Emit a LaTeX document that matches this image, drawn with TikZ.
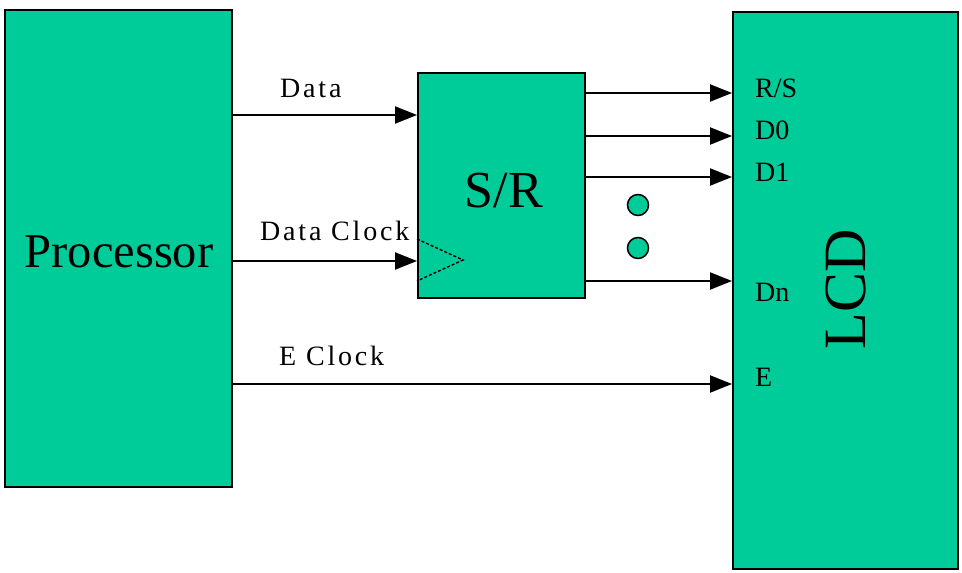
\documentclass[tikz,border=0pt]{standalone}
\usepackage{fontspec}
\setmainfont{Liberation Serif}
\newfontfamily\wirefont{Liberation Serif}[LetterSpace=10]
\usetikzlibrary{arrows.meta}
\definecolor{chipgreen}{RGB}{0,204,153}

\begin{document}
\begin{tikzpicture}[x=1pt,y=-1pt,
  block/.style={draw=black, line width=2pt, fill=chipgreen, inner sep=0pt},
  wire/.style={black, line width=2.2pt, -{Triangle[length=22pt,width=17pt]}},
  wirelabel/.style={inner sep=0pt, anchor=base west, font=\wirefont\fontsize{28}{30}\selectfont},
  pinlabel/.style={inner sep=0pt, anchor=base west, font=\fontsize{28}{30}\selectfont},
  dotmark/.style={circle, draw=black, line width=1.5pt, fill=chipgreen, minimum size=21pt, inner sep=0pt},
  clockmark/.style={black, line width=1.4pt, dash pattern=on 3pt off 2pt}]
\useasboundingbox (0,0) rectangle (962,573);
\node[block, minimum width=227pt, minimum height=477pt] (proc) at (118.5,248.5) {};
\node[block, minimum width=167pt, minimum height=225pt] (sr) at (501.5,185.5) {};
\node[block, minimum width=225pt, minimum height=557pt] (lcd) at (845.5,290.5) {};
\node[inner sep=0pt, anchor=base, font=\fontsize{48.5}{52}\selectfont] (procname) at (119,267) {Processor};
\node[inner sep=0pt, anchor=base, font=\fontsize{52}{56}\selectfont] (srname) at (504,207) {S/R};
\node[inner sep=0pt, rotate=90, font=\fontsize{60}{64}\selectfont] (lcdname) at (846,289) {LCD};
\draw[clockmark] (sr.west |- 0,239) -- (463,260) -- (sr.west |- 0,281);
\foreach \y [count=\i] in {205,248}
  \node[dotmark] (dot\i) at (638,\y) {};
\coordinate (srdata) at (sr.west |- 0,115);
\coordinate (srclock) at (sr.west |- 0,261);
\coordinate (lcde) at (lcd.west |- 0,384);
\draw[wire] (proc.east |- srdata) -- (srdata);
\draw[wire] (proc.east |- srclock) -- (srclock);
\draw[wire] (proc.east |- lcde) -- (lcde);
\foreach \y in {93,136,177,281}
  \draw[wire] (sr.east |- 0,\y) -- (lcd.west |- 0,\y);
\node[wirelabel] (ldata) at (280,97) {Data};
\node[wirelabel] (lclock) at (260,240) {Data Clock};
\node[wirelabel] (leclock) at (279,365) {E Clock};
\node[pinlabel] (lrs) at (755,97) {R/S};
\node[pinlabel] (ld0) at (755,139) {D0};
\node[pinlabel] (ld1) at (755,181) {D1};
\node[pinlabel] (ldn) at (755,301) {Dn};
\node[pinlabel] (le) at (755,386) {E};
\end{tikzpicture}
\end{document}
